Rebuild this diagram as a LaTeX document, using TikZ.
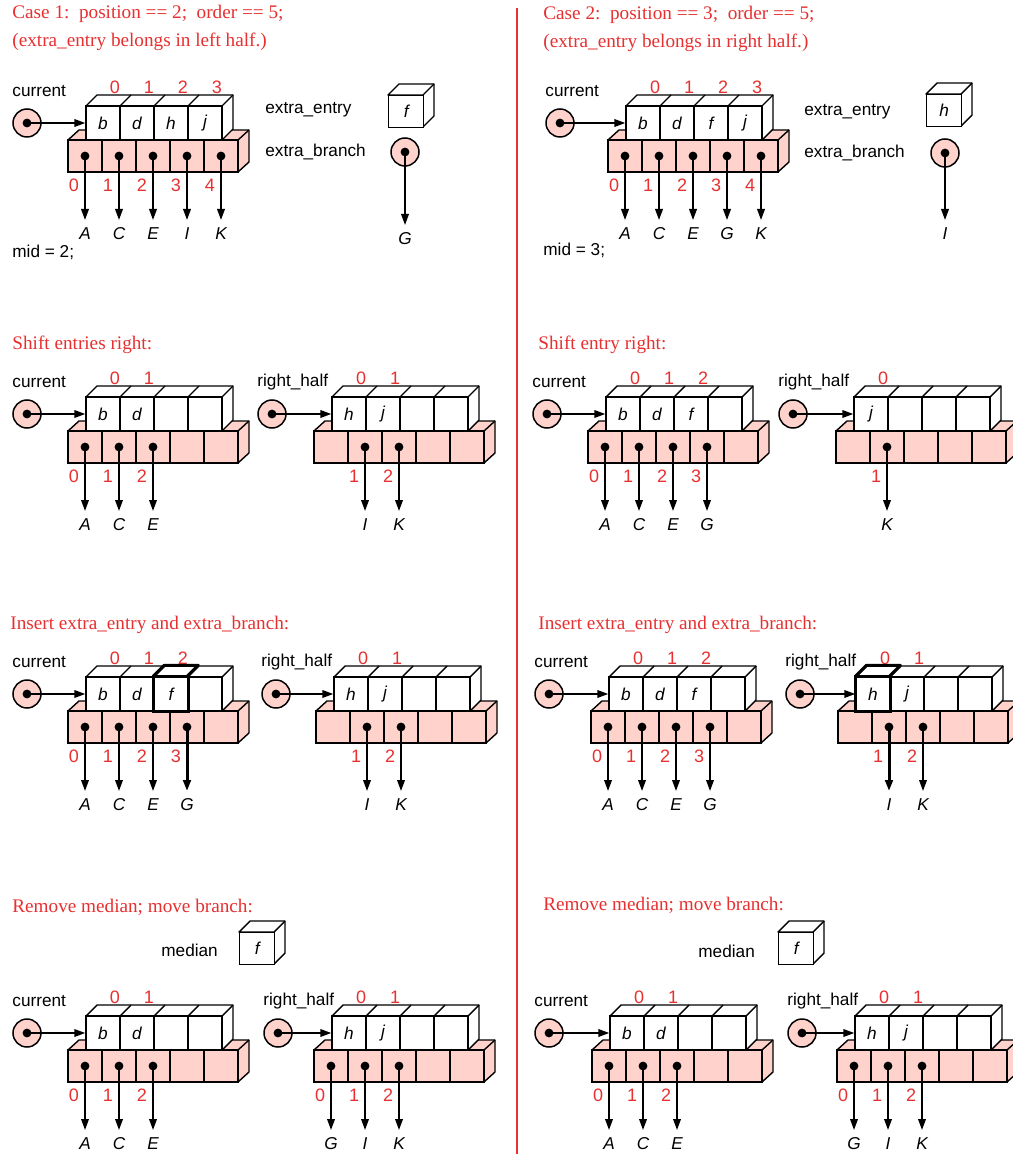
\documentclass[tikz,border=0pt]{standalone}
\usepackage{fontspec}
\setmainfont{Liberation Serif}
\newfontfamily\labfont{Liberation Sans}
\usetikzlibrary{arrows.meta}
\definecolor{pinkfill}{RGB}{255,210,204}
\definecolor{hdred}{RGB}{232,48,48}
\tikzset{
 face/.style={draw=black, line width=0.7pt, line join=round},
 keybox/.style={draw=black, fill=white, line width=0.7pt, minimum width=17pt, minimum height=17pt, inner sep=0pt, font=\labfont\itshape\fontsize{8.6pt}{10pt}\selectfont},
 pinkbox/.style={draw=black, fill=pinkfill, line width=0.7pt, minimum width=17pt, minimum height=16pt, inner sep=0pt},
 ptr/.style={circle, draw=black, fill=pinkfill, minimum size=14pt, inner sep=0pt, line width=0.75pt},
 bdot/.style={circle, fill=black, minimum size=4.4pt, inner sep=0pt},
 lab/.style={font=\labfont\fontsize{8.6pt}{10pt}\selectfont, inner sep=0pt, anchor=west},
 idx/.style={font=\labfont\fontsize{9pt}{10pt}\selectfont, text=hdred, inner sep=0pt},
 letter/.style={font=\labfont\itshape\fontsize{8.6pt}{10pt}\selectfont, inner sep=0pt, anchor=north, text height=6.2pt, text depth=0pt},
 head/.style={font=\fontsize{9.6pt}{11pt}\selectfont, text=hdred, inner sep=0pt, anchor=west},
 br/.style={line width=0.85pt, -{Triangle[length=5.5pt,width=3.8pt]}, shorten >=3.5pt},
 brthick/.style={br, line width=1.5pt},
 parr/.style={line width=0.85pt, -{Triangle[length=5.5pt,width=3.8pt]}},
}
% #1 prefix, #2 circle x, #3 pink left x, #4 key top y, #5 label, #6 keys, #7 last top index, #8 branches
\newcommand\Bstruct[8]{%
 \pgfmathsetmacro\bKx{#3+18}%
 \pgfmathsetmacro\bPy{#4+34}%
 \pgfmathsetmacro\bPb{#4+66}%
 \filldraw[face, fill=pinkfill] (#3,\bPy) -- ++(11,-10) -- ++(170,0) -- ++(0,32) -- ++(-11,10) -- ++(0,-32) -- cycle;
 \draw[face] (#3+170,\bPy) -- ++(11,-10);
 \filldraw[face, fill=white] (\bKx,#4) -- ++(11,-11) -- ++(136,0) -- ++(0,34) -- ++(-11,11) -- ++(0,-34) -- cycle;
 \draw[face] (\bKx+136,#4) -- ++(11,-11);
 \foreach \j in {1,2,3} {\draw[face] (\bKx+34*\j,#4) -- ++(11,-11);}
 \foreach \bT [count=\i from 0] in {#6} {\node[keybox] (#1k\i) at (\bKx+17+34*\i, #4+17) {\bT};}
 \foreach \i in {0,...,4} {\node[pinkbox] (#1p\i) at (#3+17+34*\i, \bPy+16) {};}
 \node[ptr] (#1c) at (#2, #4+17) {};
 \node[bdot] (#1cd) at (#1c.center) {};
 \node[lab] (#1l) at (#2-15, #4-15) {#5};
 \draw[parr] (#1cd.center) -- (#1k0);
 \foreach \i in {0,...,#7} {\node[idx] (#1t\i) at (\bKx+29+34*\i, #4-19) {\i};}
 \foreach \i/\bL/\bS in {#8} {
   \node[bdot] (#1d\i) at (#1p\i.center) {};
   \node[idx] (#1b\i) at (#3+17+34*\i-11, \bPb+13) {\i};
   \node[letter] (#1L\i) at (#3+17+34*\i, \bPb+55) {\bL};
   \draw[\bS] (#1d\i.center) -- (#1L\i);
 }
}
% #1 name, #2 left x, #3 top y, #4 letter
\newcommand\Bcube[4]{%
 \filldraw[face, fill=white] (#2,#3) -- ++(11,-11) -- ++(35,0) -- ++(0,32) -- ++(-11,11) -- ++(0,-32) -- cycle;
 \draw[face] (#2+35,#3) -- ++(11,-11);
 \node[keybox, minimum width=17.5pt, minimum height=16pt, anchor=north west] (#1) at (#2,#3) {#4};
}
\newcommand\Bthick[1]{%
 \draw[line width=1.5pt] (#1.south west) rectangle (#1.north east);
 \draw[line width=1.5pt, line join=round] (#1.north west) -- ++(11,-11) -- ++(34,0) -- ++(-11,11);
}
\begin{document}
\begin{tikzpicture}[x=0.5pt,y=-0.5pt]
\useasboundingbox[fill=white] (0,0) rectangle (1012,1154);
\draw[hdred, line width=1.1pt] (517,8) -- (517,1154);
% ---------- Left column ----------
\node[head] (h1a) at (12,14) {Case 1:\ \ position == 2;\ \ order == 5;};
\node[head] (h1b) at (12,42) {(extra\_entry belongs in left half.)};
\Bstruct{La}{27}{68}{106}{current}{b,d,h,j}{3}{0/A/br,1/C/br,2/E/br,3/I/br,4/K/br}
\node[lab] (Laee) at (265,110) {extra\_entry};
\Bcube{Lacube}{388}{95}{f}
\node[lab] (Laeb) at (265,152) {extra\_branch};
\node[ptr] (Lax) at (405,152) {};
\node[bdot] (Laxd) at (Lax.center) {};
\node[letter] (LaG) at (405,232) {G};
\draw[br] (Laxd.center) -- (LaG);
\node[lab] (Lamid) at (12,252) {mid = 2;};

\node[head] (h2) at (12,345) {Shift entries right:};
\Bstruct{Lb}{27}{68}{397}{current}{b,d,{},{}}{1}{0/A/br,1/C/br,2/E/br}
\Bstruct{Lbr}{272}{314}{397}{right\_half}{h,j,{},{}}{1}{1/I/br,2/K/br}

\node[head] (h3) at (10,625) {Insert extra\_entry and extra\_branch:};
\Bstruct{Lc}{27}{68}{677}{current}{b,d,f,{}}{2}{0/A/br,1/C/br,2/E/br,3/G/brthick}
\Bthick{Lck2}
\Bstruct{Lcr}{276}{316}{677}{right\_half}{h,j,{},{}}{1}{1/I/br,2/K/br}

\node[head] (h4) at (12,907) {Remove median; move branch:};
\node[lab] (Ldmed) at (161,950) {median};
\Bcube{Ldcube}{239}{932}{f}
\Bstruct{Ld}{27}{68}{1016}{current}{b,d,{},{}}{1}{0/A/br,1/C/br,2/E/br}
\Bstruct{Ldr}{278}{314}{1016}{right\_half}{h,j,{},{}}{1}{0/G/br,1/I/br,2/K/br}
% ---------- Right column ----------
\node[head] (r1a) at (543,15) {Case 2:\ \ position == 3;\ \ order == 5;};
\node[head] (r1b) at (543,43) {(extra\_entry belongs in right half.)};
\Bstruct{Ra}{560}{608}{106}{current}{b,d,f,j}{3}{0/A/br,1/C/br,2/E/br,3/G/br,4/K/br}
\node[lab] (Raee) at (804,112) {extra\_entry};
\Bcube{Racube}{926}{94}{h}
\node[lab] (Raeb) at (804,153) {extra\_branch};
\node[ptr] (Rax) at (945,153) {};
\node[bdot] (Raxd) at (Rax.center) {};
\node[letter] (RaI) at (945,227) {I};
\draw[br] (Raxd.center) -- (RaI);
\node[lab] (Ramid) at (543,250) {mid = 3;};

\node[head] (r2) at (538,345) {Shift entry right:};
\Bstruct{Rb}{547}{588}{397}{current}{b,d,f,{}}{2}{0/A/br,1/C/br,2/E/br,3/G/br}
\Bstruct{Rbr}{793}{836}{397}{right\_half}{j,{},{},{}}{0}{1/K/br}

\node[head] (r3) at (538,625) {Insert extra\_entry and extra\_branch:};
\Bstruct{Rc}{549}{591}{677}{current}{b,d,f,{}}{2}{0/A/br,1/C/br,2/E/br,3/G/br}
\Bstruct{Rcr}{800}{838}{677}{right\_half}{h,j,{},{}}{1}{1/I/brthick,2/K/br}
\Bthick{Rcrk0}

\node[head] (r4) at (543,905) {Remove median; move branch:};
\node[lab] (Rdmed) at (698,951) {median};
\Bcube{Rdcube}{778}{932}{f}
\Bstruct{Rd}{549}{592}{1016}{current}{b,d,{},{}}{1}{0/A/br,1/C/br,2/E/br}
\Bstruct{Rdr}{802}{837}{1016}{right\_half}{h,j,{},{}}{1}{0/G/br,1/I/br,2/K/br}
\end{tikzpicture}
\end{document}
